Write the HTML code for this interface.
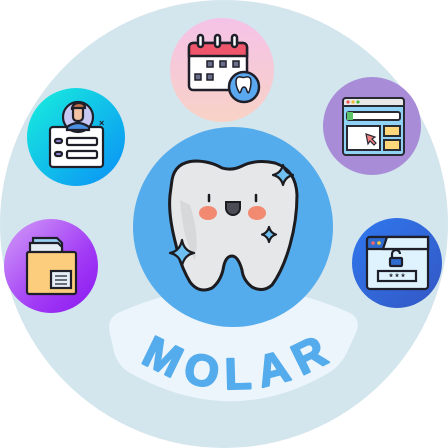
<!DOCTYPE html>
<html><head><style>
html,body{margin:0;padding:0;background:#fff;width:448px;height:448px;overflow:hidden}
svg{display:block}
</style></head><body>
<svg width="448" height="448" viewBox="0 0 448 448" xmlns="http://www.w3.org/2000/svg">
<defs>
<linearGradient id="gp" x1="0" y1="0" x2="0" y2="1"><stop offset="0" stop-color="#f5c2e8"/><stop offset="1" stop-color="#f8d2c6"/></linearGradient>
<linearGradient id="gc" x1="0" y1="0" x2="1" y2="1"><stop offset="0" stop-color="#18f0dc"/><stop offset="1" stop-color="#0a8ef7"/></linearGradient>
<linearGradient id="gv" x1="0" y1="0" x2="1" y2="1"><stop offset="0" stop-color="#d39ef8"/><stop offset="0.6" stop-color="#a23cf5"/><stop offset="1" stop-color="#8a16f0"/></linearGradient>
<linearGradient id="gb" x1="0" y1="0" x2="1" y2="1"><stop offset="0" stop-color="#2f78ee"/><stop offset="1" stop-color="#3457c4"/></linearGradient>
<path id="arc" d="M128,354 Q233,424 342,354"/>
</defs>
<circle cx="224" cy="224" r="224" fill="#d3e5ed"/>

<!-- top pink -->
<circle cx="222" cy="70" r="52" fill="url(#gp)"/>
<g stroke="#1f1f2a" stroke-width="2.5">
<rect x="189" y="43" width="58" height="47" rx="4" fill="#fff"/>
<path d="M189,56 V47 a4,4 0 0 1 4,-4 H243 a4,4 0 0 1 4,4 V56 Z" fill="#f0566b"/>
<rect x="198" y="35" width="5" height="12" rx="2.5" fill="#fff"/>
<rect x="215" y="35" width="5" height="12" rx="2.5" fill="#fff"/>
<rect x="232" y="35" width="5" height="12" rx="2.5" fill="#fff"/>
</g>
<g fill="#6a6f8c" stroke="#1f1f2a" stroke-width="1.5">
<rect x="207" y="61" width="6" height="6"/><rect x="220" y="61" width="6" height="6"/><rect x="233" y="61" width="6" height="6"/>
<rect x="195" y="74" width="6" height="6"/><rect x="207" y="74" width="6" height="6"/>
</g>
<circle cx="244" cy="87" r="15" fill="#5aa8f0" stroke="#1f1f2a" stroke-width="2.5"/>
<path d="M236,82 q0,-6 5,-5 q3,1 5,0 q5,-1 5,5 q0,5 -2,10 q-1,2 -2,-1 q-1,-4 -3,-4 q-2,0 -3,4 q-1,3 -2,1 q-3,-5 -3,-10z" fill="#fff" stroke="#1f1f2a" stroke-width="1.5"/>

<!-- cyan -->
<circle cx="76" cy="137" r="49" fill="url(#gc)"/>
<g stroke="#1f1f2a" stroke-width="2.2">
<rect x="50" y="127" width="53" height="40" rx="3" fill="#fff"/>
<circle cx="78" cy="117" r="15" fill="#c8c8f5"/>
<path d="M67,127 q11,-8 22,0 v3 h-22z" fill="#4a8fe0"/>
<rect x="73" y="106" width="10" height="15" rx="4" fill="#f2c2a2"/>
<path d="M72,110 q0,-7 7,-7 q6,0 6,5 h-13z" fill="#c0704a"/>
<rect x="67" y="138" width="30" height="7" rx="1.5" fill="#fff"/>
<rect x="67" y="151" width="30" height="7" rx="1.5" fill="#fff"/>
<rect x="55" y="139" width="7" height="4" rx="2" fill="#9b8ee8"/>
<rect x="55" y="152" width="7" height="4" rx="2" fill="#9b8ee8"/>
</g>
<text x="99" y="126" font-family="Liberation Sans" font-size="9" font-weight="bold" fill="#1f1f2a">×</text>

<!-- purple right -->
<circle cx="372" cy="126" r="49" fill="#a98cd8"/>
<g stroke="#2a2a35" stroke-width="2">
<rect x="343" y="98" width="61" height="57" rx="3" fill="#8fd2f5"/>
<path d="M343,106 V101 a3,3 0 0 1 3,-3 H401 a3,3 0 0 1 3,3 V106 Z" fill="#e8e8e8"/>
<rect x="347" y="112" width="53" height="8" rx="2" fill="#fff"/>
<rect x="347" y="126" width="33" height="24" fill="#fff"/>
<rect x="384" y="126" width="16" height="10" fill="#fdd77a"/>
<rect x="384" y="140" width="16" height="10" fill="#fdd77a"/>
</g>
<circle cx="348" cy="102" r="1.6" fill="#e55"/><circle cx="353" cy="102" r="1.6" fill="#eb3"/><circle cx="358" cy="102" r="1.6" fill="#4b4"/>
<rect x="347" y="112" width="6" height="8" fill="#5cc36a"/>
<path d="M366,134 l9,3 -3,2 4,4 -2,2 -4,-4 -2,3z" fill="#f08080" stroke="#2a2a35" stroke-width="1.2"/>

<!-- violet left -->
<circle cx="51" cy="266" r="47" fill="url(#gv)"/>
<g stroke="#1f1f2a" stroke-width="2.2">
<path d="M33,238 h24 l5,5 v15 h-29z" fill="#9cd0f2"/>
<path d="M30,243 h28 l4,4 v14 h-32z" fill="#e4ecf6"/>
<rect x="27" y="252" width="49" height="42" rx="2" fill="#fdcd7e"/>
<rect x="51" y="271" width="20" height="17" fill="#e4ecf6"/>
<path d="M55,276 h12 M55,280 h12 M55,284 h12" stroke-width="1.2"/>
</g>

<!-- blue right bottom -->
<circle cx="397" cy="263" r="45" fill="url(#gb)"/>
<g stroke="#1f1f2a" stroke-width="2.2">
<rect x="367" y="237" width="61" height="52" rx="3" fill="#def3fd"/>
<path d="M367,249 V240 a3,3 0 0 1 3,-3 H428 V249z" fill="#2f6cd0"/>
<path d="M383,249 l4,-12 h41 v12z" fill="#def3fd"/>
<rect x="378" y="271" width="38" height="10" fill="#def3fd"/>
<rect x="390" y="258" width="12" height="8" rx="1" fill="#2f6cd0"/>
<path d="M392,258 v-4 a4,4 0 0 1 8,0" fill="none"/>
</g>
<circle cx="373" cy="243" r="1.8" fill="#f66"/><circle cx="379" cy="243" r="1.8" fill="#fc3"/>
<text x="397" y="280" text-anchor="middle" font-family="Liberation Sans" font-size="9" font-weight="bold" fill="#1f1f2a">* * *</text>

<!-- banner -->
<path d="M120,312 Q233,262 348,312 Q362,318 356,333 L348,350 Q342,364 330,372 Q233,430 130,373 Q118,366 114,352 L110,334 Q106,318 120,312Z" fill="#ecf5fc"/>

<!-- center -->
<circle cx="233" cy="227" r="100" fill="#55acec"/>
<path d="M172,180 Q175,162 195,161 Q210,161 222,168 Q232,171 242,166 Q256,159 275,163 Q296,170 297,195 Q297,220 290,245 Q283,270 272,285 Q263,293 252,287 Q243,280 242,270 Q238,256 232,256 Q225,256 223,270 Q220,282 212,288 Q199,294 190,282 Q180,265 176,245 Q168,215 170,195Z" fill="#e6e7e9" stroke="#1b1b20" stroke-width="3"/>
<path d="M180,200 Q183,240 195,260 Q200,235 190,205Z" fill="#d7d8da"/>
<g stroke="#1b1b20" stroke-width="2.5" stroke-linecap="round"><path d="M209,195 v6 M256,195 v6"/></g>
<path d="M226,202 h14 v6 a7,7 0 0 1 -14,0z" fill="#4b4c56" stroke="#1b1b20" stroke-width="2"/>
<ellipse cx="208" cy="213" rx="9" ry="7" fill="#f28a72"/>
<ellipse cx="257" cy="213" rx="9" ry="7" fill="#f28a72"/>
<g fill="#6fc0f2" stroke="#1b1b20" stroke-width="2.2" stroke-linejoin="round">
<path d="M283,165 q2,8 10,10 q-8,2 -10,10 q-2,-8 -10,-10 q8,-2 10,-10z"/>
<path d="M269,227 q1.5,6 7,7.5 q-5.5,1.5 -7,7.5 q-1.5,-6 -7,-7.5 q5.5,-1.5 7,-7.5z"/>
<path d="M182,240 q2,11 12,13 q-10,2 -12,13 q-2,-11 -12,-13 q10,-2 12,-13z"/>
</g>

<text font-family="Liberation Sans" font-weight="bold" font-size="44" fill="#55acec" stroke="#55acec" stroke-width="2" stroke-linejoin="round"><textPath href="#arc" startOffset="50%" text-anchor="middle" textLength="200" lengthAdjust="spacing">MOLAR</textPath></text>
</svg>
</body></html>
